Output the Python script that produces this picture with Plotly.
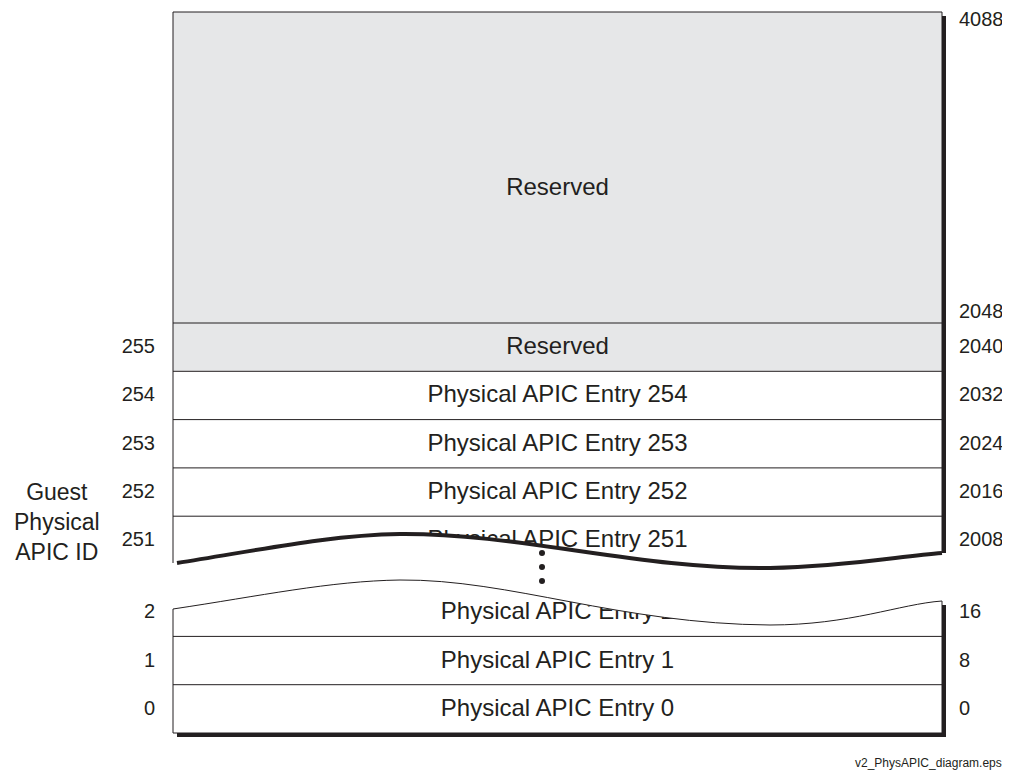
import plotly.graph_objects as go

# rows above the break (top -> bottom)
upper_ids = ["255", "254", "253", "252", "251"]
upper_names = ["Reserved", "Physical APIC Entry 254", "Physical APIC Entry 253",
               "Physical APIC Entry 252", "Physical APIC Entry 251"]
upper_offsets = ["2040", "2032", "2024", "2016", "2008"]

# rows below the break (top -> bottom)
lower_ids = ["2", "1", "0"]
lower_names = ["Physical APIC Entry 2", "Physical APIC Entry 1", "Physical APIC Entry 0"]
lower_offsets = ["16", "8", "0"]

reserved_name = "Reserved"
reserved_top_label = "4088"
reserved_bottom_label = "2048"
axis_title = "Guest<br>Physical<br>APIC ID"
file_note = "v2_PhysAPIC_diagram.eps"

# geometry (page pixels; the page body has an 8px margin)
PAD = 8
X0, X1 = 173, 942
TOP = 12
RES_BOTTOM = 323
ROW_H = 48.3
BOTTOM = 733
SH = 4
DY = 1  # text baseline nudge
INK = "#231f20"
GRAY = "#e6e7e8"
FONT = "Liberation Sans, Arial, sans-serif"

upper_y = [RES_BOTTOM + ROW_H * (i + 0.5) + DY for i in range(len(upper_ids))]
lower_y = [BOTTOM - ROW_H * (len(lower_ids) - i - 0.5) + DY for i in range(len(lower_ids))]

wave_top = "M177,563 C260,550 330,535 400,534 C520,533 640,570 770,568 C850,566 900,556 942,553"
wave_bot = "M173,609 C260,596 330,581 400,580 C510,579 620,624 770,625 C850,625 900,604 942,601"
cover = ("M168,563 L177,563 C260,550 330,535 400,534 C520,533 640,570 770,568 "
         "C850,566 900,556 942,553 L952,553 L952,601 L942,601 "
         "C900,604 850,625 770,625 C620,624 510,579 400,580 C330,581 260,596 173,609 L168,609 Z")

fig = go.Figure()

# centre names
fig.add_trace(go.Scatter(
    x=[(X0 + X1) / 2] * (len(upper_names) + len(lower_names) + 1),
    y=[189] + upper_y + lower_y,
    text=[reserved_name] + upper_names + lower_names,
    mode="text", textposition="middle center",
    textfont=dict(family=FONT, size=24, color=INK), hoverinfo="skip",
))
# left ids
fig.add_trace(go.Scatter(
    x=[155] * (len(upper_ids) + len(lower_ids)),
    y=upper_y + lower_y,
    text=upper_ids + lower_ids,
    mode="text", textposition="middle left",
    textfont=dict(family=FONT, size=20, color=INK), hoverinfo="skip",
))
# right offsets
fig.add_trace(go.Scatter(
    x=[959] * (len(upper_offsets) + len(lower_offsets) + 2),
    y=[21, RES_BOTTOM - 10] + upper_y + lower_y,
    text=[reserved_top_label, reserved_bottom_label] + upper_offsets + lower_offsets,
    mode="text", textposition="middle right",
    textfont=dict(family=FONT, size=20, color=INK), hoverinfo="skip",
))

shapes = []
# gray reserved blocks
shapes.append(dict(type="rect", x0=X0, x1=X1, y0=TOP, y1=RES_BOTTOM + ROW_H,
                   fillcolor=GRAY, line=dict(width=0), layer="below"))
# shadows
shapes.append(dict(type="rect", x0=X1, x1=X1 + SH, y0=TOP + SH, y1=553,
                   fillcolor=INK, line=dict(width=0), layer="below"))
shapes.append(dict(type="rect", x0=X1, x1=X1 + SH, y0=605, y1=BOTTOM + SH,
                   fillcolor=INK, line=dict(width=0), layer="below"))
shapes.append(dict(type="rect", x0=X0 + SH, x1=X1 + SH, y0=BOTTOM, y1=BOTTOM + SH,
                   fillcolor=INK, line=dict(width=0), layer="below"))
# outline
line = dict(color=INK, width=1)
shapes.append(dict(type="line", x0=X0, x1=X1, y0=TOP, y1=TOP, line=line, layer="below"))
shapes.append(dict(type="line", x0=X0, x1=X0, y0=TOP, y1=563, line=line, layer="below"))
shapes.append(dict(type="line", x0=X1, x1=X1, y0=TOP, y1=553, line=line, layer="below"))
shapes.append(dict(type="line", x0=X0, x1=X0, y0=609, y1=BOTTOM, line=line, layer="below"))
shapes.append(dict(type="line", x0=X1, x1=X1, y0=601, y1=BOTTOM, line=line, layer="below"))
shapes.append(dict(type="line", x0=X0, x1=X1, y0=BOTTOM, y1=BOTTOM, line=line, layer="below"))
# row separators
for i in range(len(upper_ids)):
    y = RES_BOTTOM + ROW_H * i
    shapes.append(dict(type="line", x0=X0, x1=X1, y0=y, y1=y, line=line, layer="below"))
for i in range(1, len(lower_ids)):
    y = BOTTOM - ROW_H * i
    shapes.append(dict(type="line", x0=X0, x1=X1, y0=y, y1=y, line=line, layer="below"))
# break
shapes.append(dict(type="path", path=cover, fillcolor="white", line=dict(width=0), layer="above"))
shapes.append(dict(type="path", path=wave_top, line=dict(color=INK, width=4), layer="above"))
shapes.append(dict(type="path", path=wave_bot, line=dict(color=INK, width=1), layer="above"))
for yd in [553, 567, 581]:
    shapes.append(dict(type="circle", x0=539, x1=545, y0=yd - 3, y1=yd + 3,
                       fillcolor=INK, line=dict(width=0), layer="above"))

fig.update_layout(
    width=1010 - PAD, height=774 - PAD,
    margin=dict(l=0, r=0, t=0, b=0),
    plot_bgcolor="white", paper_bgcolor="white",
    showlegend=False,
    xaxis=dict(range=[PAD, 1010], visible=False, fixedrange=True),
    yaxis=dict(range=[774, PAD], visible=False, fixedrange=True),
    shapes=shapes,
    annotations=[
        dict(x=57, y=522, text=axis_title, showarrow=False, xref="x", yref="y",
             font=dict(family=FONT, size=23, color=INK), align="center"),
        dict(x=1004, y=763, text=file_note, showarrow=False, xref="x", yref="y",
             xanchor="right", font=dict(family=FONT, size=12, color=INK)),
    ],
)

fig.write_html("out.html")
